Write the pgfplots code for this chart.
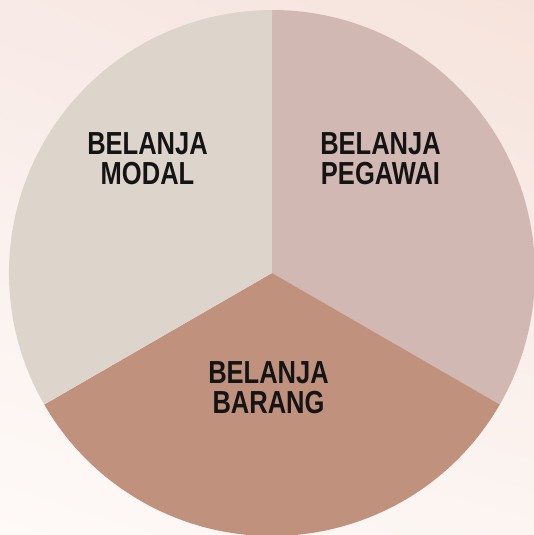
\documentclass[border=0pt]{standalone}
\usepackage{pgfplots}
\pgfplotsset{compat=1.18}
\usepackage{pgfplotstable}
\usetikzlibrary{shadings}
\usepackage{fontspec}
\newfontfamily\labfont{Liberation Sans}[FakeStretch=0.80]
\definecolor{cPegawai}{HTML}{D2B8B2}
\definecolor{cBarang}{HTML}{C0917C}
\definecolor{cModal}{HTML}{DDD5CC}
\definecolor{bgA}{HTML}{FEFAF8}
\definecolor{bgB}{HTML}{F6E3DC}
\definecolor{bgC}{HTML}{F8EAE6}
\definecolor{bgD}{HTML}{FCF5F2}
\tikzset{lab/.style={font={\labfont\bfseries\fontsize{32}{30}\selectfont}, align=center, inner sep=0pt, text=black!92}}
\pgfplotstableread{
label value
Pegawai 1
Barang 1
Modal 1
}\piedata
\begin{document}
\begin{tikzpicture}
\pgfplotstablegetelem{0}{value}\of\piedata \let\va\pgfplotsretval
\pgfplotstablegetelem{1}{value}\of\piedata \let\vb\pgfplotsretval
\pgfplotstablegetelem{2}{value}\of\piedata \let\vc\pgfplotsretval
\pgfmathsetmacro\tot{\va+\vb+\vc}
\pgfmathsetmacro\aA{90}
\pgfmathsetmacro\aB{\aA-360*\va/\tot}
\pgfmathsetmacro\aC{\aB-360*\vb/\tot}
\pgfmathsetmacro\aD{\aC-360*\vc/\tot}
\shade[lower left=bgA, upper right=bgB, upper left=bgC, lower right=bgD] (0,0) rectangle (534bp,535bp);
\begin{pgfinterruptboundingbox}
\clip (0,0) rectangle (534bp,535bp);
\begin{axis}[
  at={(0,0)}, anchor=origin,
  x=1bp, y=1bp,
  xmin=0, xmax=534, ymin=0, ymax=535,
  hide axis, clip=false,
]
\addplot[draw=none, forget plot] coordinates {(0,0) (534,535)};
\fill[cPegawai] (axis cs:272,262) -- ++(\aA:263bp) arc[start angle=\aA, end angle=\aB, radius=263bp] -- cycle;
\fill[cBarang]  (axis cs:272,262) -- ++(\aB:263bp) arc[start angle=\aB, end angle=\aC, radius=263bp] -- cycle;
\fill[cModal]   (axis cs:272,262) -- ++(\aC:263bp) arc[start angle=\aC, end angle=\aD, radius=263bp] -- cycle;
\node[lab] at (axis cs:147.5,376.5) {BELANJA\\MODAL};
\node[lab] at (axis cs:380.5,376.5) {BELANJA\\PEGAWAI};
\node[lab] at (axis cs:268.5,147.5) {BELANJA\\BARANG};
\end{axis}
\end{pgfinterruptboundingbox}
\end{tikzpicture}
\end{document}
